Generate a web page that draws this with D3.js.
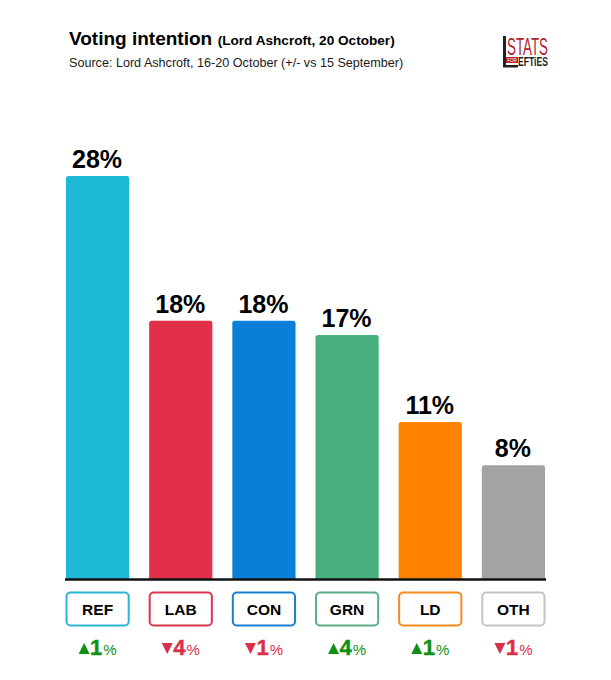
<!DOCTYPE html>
<html>
<head>
<meta charset="utf-8">
<style>
  html, body { margin: 0; padding: 0; background: #fff; }
  text { font-family: "Liberation Sans", Arial, sans-serif; }
</style>
</head>
<body>
<div id="chart"></div>
<script src="https://cdn.jsdelivr.net/npm/d3@7"></script>
<script>
// values
var parties = ["REF", "LAB", "CON", "GRN", "LD", "OTH"];
var shares = [28, 18, 18, 17, 11, 8];
var changes = [1, -4, -1, 4, 1, -1];
var barColours = ["#1cb8d6", "#e22f4a", "#0a7fd8", "#48b07c", "#ff8200", "#a3a3a3"];
var boxColours = ["#2cb6d4", "#d9364f", "#1a7fcf", "#5aae88", "#f58a1f", "#c4c4c4"];

var width = 611, height = 680;
var baseline = 579;

var svg = d3.select("#chart").append("svg")
  .attr("width", width)
  .attr("height", height)
  .style("display", "block");

var x = d3.scaleBand().domain(parties).range([66, 545]).paddingInner(0.24).paddingOuter(0);
// zero sits just under the axis line, the bars get cut off by it
var y = d3.scaleLinear().domain([0, 28]).range([581, 176]);

// title
var title = svg.append("text").attr("x", 69).attr("y", 44.5).attr("font-weight", "bold").attr("fill", "#000");
title.append("tspan").attr("font-size", 19).text("Voting intention");
title.append("tspan").attr("font-size", 13.6).attr("dx", 5.5).text("(Lord Ashcroft, 20 October)");

svg.append("text").attr("x", 69).attr("y", 66.5).attr("font-size", 12.6).attr("fill", "#1a1a1a")
  .text("Source: Lord Ashcroft, 16-20 October (+/- vs 15 September)");

// logo
var logo = svg.append("g");
logo.append("rect").attr("x", 503).attr("y", 36).attr("width", 3).attr("height", 31).attr("fill", "#222");
logo.append("rect").attr("x", 503).attr("y", 65).attr("width", 15).attr("height", 2.5).attr("fill", "#222");
logo.append("text").attr("x", 507).attr("y", 55).attr("font-size", 24).attr("fill", "#b3262b")
  .attr("textLength", 41).attr("lengthAdjust", "spacingAndGlyphs").text("STATS");
logo.append("rect").attr("x", 506).attr("y", 57).attr("width", 12).attr("height", 6).attr("fill", "#b3262b");
logo.append("text").attr("x", 512).attr("y", 62).attr("font-size", 4.5).attr("fill", "#fff")
  .attr("text-anchor", "middle").text("FOR");
logo.append("text").attr("x", 518).attr("y", 66).attr("font-size", 13.5).attr("font-weight", "bold").attr("fill", "#222")
  .attr("textLength", 30).attr("lengthAdjust", "spacingAndGlyphs").text("EFTiES");

// bars
svg.selectAll("path.bar").data(parties).enter().append("path")
  .attr("class", "bar")
  .attr("fill", function (d, i) { return barColours[i]; })
  .attr("d", function (d, i) {
    var x0 = x(d), x1 = x0 + x.bandwidth(), top = y(shares[i]), r = 2.5;
    return "M" + x0 + "," + baseline + "V" + (top + r) + "Q" + x0 + "," + top + " " + (x0 + r) + "," + top +
      "H" + (x1 - r) + "Q" + x1 + "," + top + " " + x1 + "," + (top + r) + "V" + baseline + "Z";
  });

// value labels
svg.selectAll("text.value").data(parties).enter().append("text")
  .attr("class", "value")
  .attr("x", function (d) { return x(d) + x.bandwidth() / 2 - 0.5; })
  .attr("y", function (d, i) { return y(shares[i]) - 8; })
  .attr("text-anchor", "middle")
  .attr("font-size", 25)
  .attr("font-weight", "bold")
  .attr("fill", "#000")
  .text(function (d, i) { return shares[i] + "%"; });

// axis line
svg.append("line").attr("x1", 65).attr("x2", 546).attr("y1", 579.5).attr("y2", 579.5)
  .attr("stroke", "#111").attr("stroke-width", 2.4);

// party boxes
svg.selectAll("rect.box").data(parties).enter().append("rect")
  .attr("class", "box")
  .attr("x", function (d) { return x(d) + 0.5; })
  .attr("y", 592.5)
  .attr("width", x.bandwidth() - 1)
  .attr("height", 33)
  .attr("rx", 4)
  .attr("fill", "#fff")
  .attr("stroke", function (d, i) { return boxColours[i]; })
  .attr("stroke-width", 2);

svg.selectAll("text.party").data(parties).enter().append("text")
  .attr("class", "party")
  .attr("x", function (d) { return x(d) + x.bandwidth() / 2; })
  .attr("y", 615)
  .attr("text-anchor", "middle")
  .attr("font-size", 15.5)
  .attr("font-weight", "bold")
  .attr("fill", "#000")
  .text(function (d) { return d; });

// changes
var changeColour = function (i) { return changes[i] > 0 ? "#0f8f14" : "#d9304a"; };

svg.selectAll("path.arrow").data(parties).enter().append("path")
  .attr("class", "arrow")
  .attr("fill", function (d, i) { return changeColour(i); })
  .attr("transform", function (d) { return "translate(" + (x(d) + x.bandwidth() / 2 - 13.5) + ",648.5)"; })
  .attr("d", function (d, i) {
    return changes[i] > 0 ? "M-5.5,5.5L5.5,5.5L0,-5.5Z" : "M-5.5,-5.5L5.5,-5.5L0,5.5Z";
  });

var changeText = svg.selectAll("text.change").data(parties).enter().append("text")
  .attr("class", "change")
  .attr("x", function (d) { return x(d) + x.bandwidth() / 2 - 7.5; })
  .attr("y", 654.5)
  .attr("font-weight", "bold")
  .attr("fill", function (d, i) { return changeColour(i); });
changeText.append("tspan").attr("font-size", 22).attr("stroke", function (d, i) { return changeColour(i); })
  .attr("stroke-width", 0.4).text(function (d, i) { return Math.abs(changes[i]); });
changeText.append("tspan").attr("font-size", 15).attr("dx", 1).attr("font-weight", "normal").text("%");
</script>
</body>
</html>
